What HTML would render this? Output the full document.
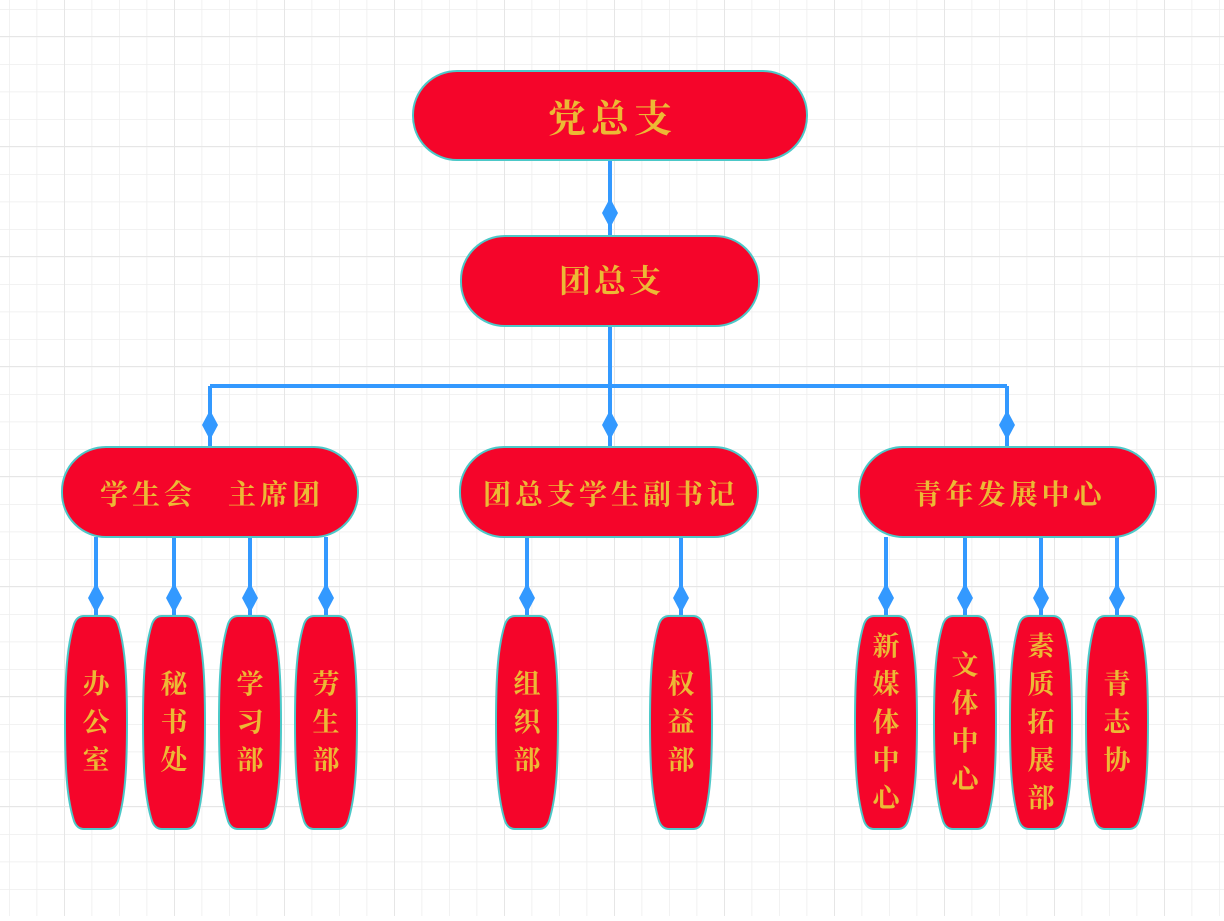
<!DOCTYPE html>
<html><head><meta charset="utf-8"><style>
html,body{margin:0;padding:0;background:#fff}
svg text{font-family:"Liberation Serif","Noto Serif CJK SC",serif;font-weight:bold;fill:#ecb935;text-anchor:middle}
</style></head><body>
<svg id="s" width="1224" height="916" xmlns="http://www.w3.org/2000/svg">
<defs>
<pattern id="g" x="9" y="9" width="27.5" height="27.5" patternUnits="userSpaceOnUse"><path d="M0 0V27.5M0 0H27.5" stroke="#eeeeee" stroke-width="1.5" fill="none"/></pattern>
<pattern id="G" x="64" y="36" width="110" height="110" patternUnits="userSpaceOnUse"><path d="M0 0V110M0 0H110" stroke="#e6e6e6" stroke-width="2" fill="none"/></pattern>
</defs>
<rect width="1224" height="916" fill="url(#g)"/>
<rect width="1224" height="916" fill="url(#G)"/>
<g id="lines" stroke="#3399ff" stroke-width="4" fill="none"></g>
<g id="dia" fill="#3399ff"></g>
<g id="nodes" fill="#f5052a" stroke="#4cc8c8" stroke-width="2" stroke-linejoin="round"></g>
<g id="txt"></g>
</svg>
<script>
const NS="http://www.w3.org/2000/svg";
function el(p,t,a,txt){const e=document.createElementNS(NS,t);for(const k in a)e.setAttribute(k,a[k]);if(txt)e.textContent=txt;document.getElementById(p).appendChild(e);return e;}
function line(d){el('lines','path',{d});}
function dia(x,y){el('dia','path',{d:`M${x} ${y-15}L${x+8} ${y}L${x} ${y+15}L${x-8} ${y}Z`});}
function box(x1,y1,x2,y2,r,t,fs,ls,cy){el('nodes','rect',{x:x1,y:y1,width:x2-x1,height:y2-y1,rx:r,ry:r});el('txt','text',{x:(x1+x2)/2+ls/2,y:cy,'font-size':fs,'letter-spacing':ls},t);}
line('M610 160V236');dia(610,213);
line('M610 326V386M210 386H1007M210 386V447M610 386V447M1007 386V447');
dia(210,425);dia(610,425);dia(1007,425);
const leaves=[[96,'办公室'],[174,'秘书处'],[250,'学习部'],[326,'劳生部'],[527,'组织部'],[681,'权益部'],[886,'新媒体中心'],[965,'文体中心'],[1041,'素质拓展部'],[1117,'青志协']];
leaves.forEach(([x])=>{line(`M${x} 537V616`);dia(x,598);});
box(413,71,807,160,44,'党总支',38,5,132);
box(461,236,759,326,44,'团总支',32,3,292);
box(62,447,358,537,44,'学生会　主席团',28,4,504);
box(460,447,758,537,44,'团总支学生副书记',28,4,504);
box(859,447,1156,537,44,'青年发展中心',28,4,504);
leaves.forEach(([c,t])=>{
 const T=616,B=829,M=(T+B)/2;
 el('nodes','path',{d:`M${c-12} ${T}H${c+12}Q${c+19} ${T} ${c+22} ${T+8}C${c+29} ${T+30} ${c+31} ${T+60} ${c+31} ${M}C${c+31} ${B-60} ${c+29} ${B-30} ${c+22} ${B-8}Q${c+19} ${B} ${c+12} ${B}H${c-12}Q${c-19} ${B} ${c-22} ${B-8}C${c-29} ${B-30} ${c-31} ${B-60} ${c-31} ${M}C${c-31} ${T+60} ${c-29} ${T+30} ${c-22} ${T+8}Q${c-19} ${T} ${c-12} ${T}Z`});
 const n=t.length,sp=38,start=M-(n-1)*sp/2;
 for(let i=0;i<n;i++)el('txt','text',{x:c,y:start+i*sp+9,'font-size':27},t[i]);
});
</script>
</body></html>
